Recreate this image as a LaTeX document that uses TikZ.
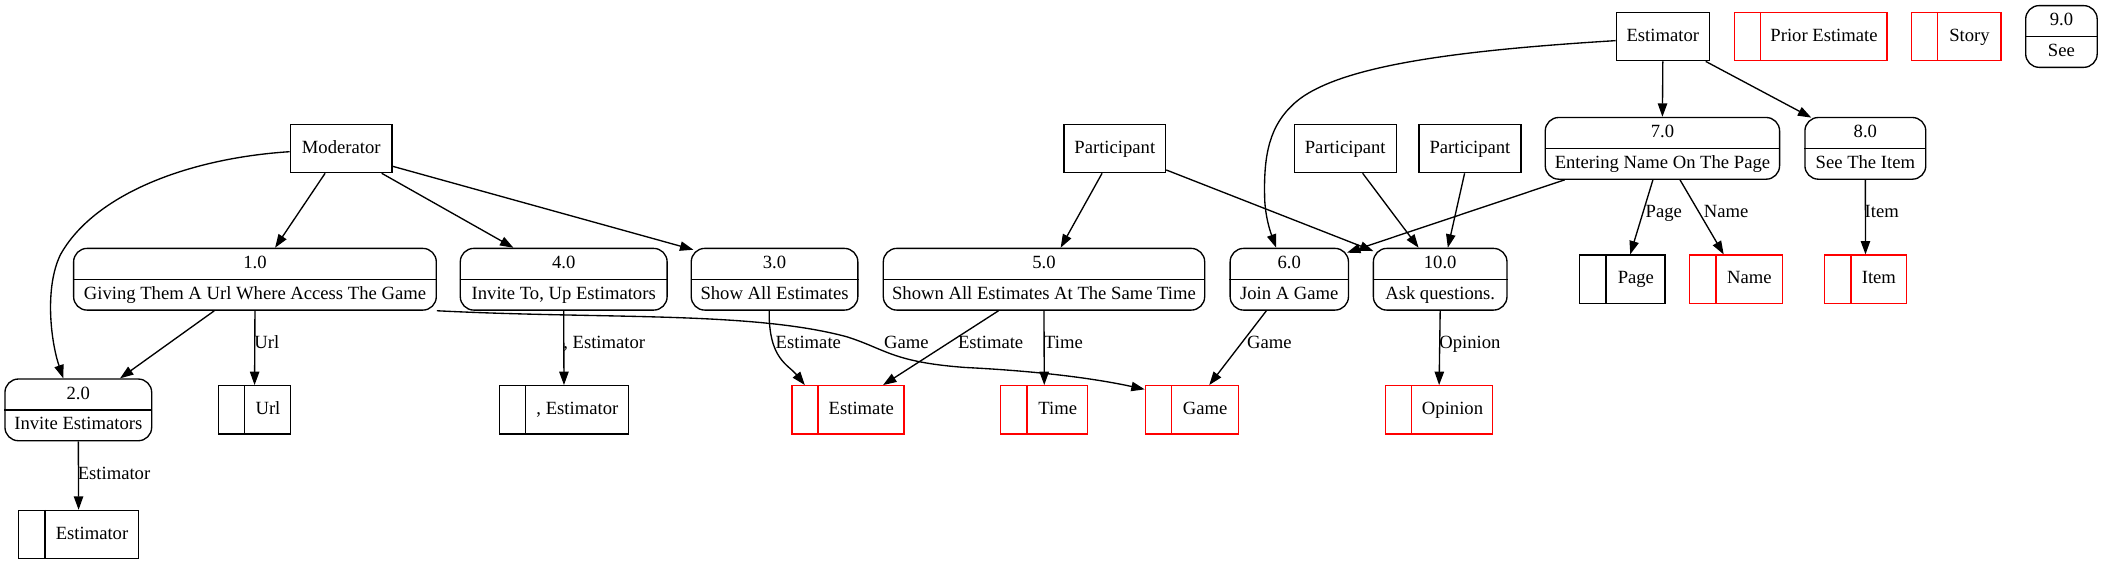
\documentclass[tikz,border=0pt]{standalone}
\usepackage{fontspec}
\setmainfont{Liberation Serif}
\usetikzlibrary{arrows.meta}
\tikzset{
  every node/.style={font=\fontsize{13.9}{16}\selectfont},
  txt/.style={inner sep=0pt, text height=9.8pt, text depth=2.8pt},
  lbl/.style={inner sep=0pt, text height=9.8pt, text depth=2.8pt},
  extbox/.style={draw, line width=1pt, rectangle, minimum height=36pt, inner sep=0pt, text height=9.8pt, text depth=2.8pt},
  procbox/.style={draw, line width=1pt, rectangle, rounded corners=10pt, minimum height=46pt, inner sep=0pt},
  storebox/.style={draw, line width=1pt, rectangle, minimum height=36pt, inner sep=0pt},
  flow/.style={line width=1pt, -{Triangle[length=10pt,width=7pt]}},
}
\newcommand{\dfdproc}[6]{%
  \node[procbox, minimum width=#4pt] (#1) at (#2,#3) {};
  \draw[line width=1pt] (#1.west) -- (#1.east);
  \node[txt] (#1n) at ([yshift=11.5pt]#1.center) {#5};
  \node[txt] (#1t) at ([yshift=-11.5pt]#1.center) {#6};
}
\newcommand{\dfdstore}[6]{%
  \node[storebox, draw=#5, minimum width=#4pt] (#1) at (#2,#3) {};
  \draw[#5, line width=1pt] ([xshift=20pt]#1.north west) -- ([xshift=20pt]#1.south west);
  \node[txt] (#1t) at ([xshift=10pt]#1.center) {#6};
}
\begin{document}
\begin{tikzpicture}[x=1pt,y=-1pt]
\useasboundingbox (0,0) rectangle (1568,420.5);

% external entities
\node[extbox, minimum width=75.8pt] (mod) at (254.4,110.7) {Moderator};
\node[extbox, minimum width=75.6pt] (partA) at (831.2,110.7) {Participant};
\node[extbox, minimum width=76pt] (partB) at (1003,110.7) {Participant};
\node[extbox, minimum width=76pt] (partC) at (1096,110.7) {Participant};
\node[extbox, minimum width=69.5pt] (est) at (1239.8,27.3) {Estimator};

% processes
\dfdproc{p1}{190.1}{208.2}{270.4}{1.0}{Giving Them A Url Where Access The Game}
\dfdproc{p4}{420.3}{208.2}{154.2}{4.0}{Invite To, Up Estimators}
\dfdproc{p3}{577.5}{208.2}{124.2}{3.0}{Show All Estimates}
\dfdproc{p5}{778.4}{208.2}{239.6}{5.0}{Shown All Estimates At The Same Time}
\dfdproc{p6}{961.3}{208.2}{88.2}{6.0}{Join A Game}
\dfdproc{p10}{1073.8}{208.2}{99.6}{10.0}{Ask questions.}
\dfdproc{p7}{1239.5}{110.6}{174.7}{7.0}{Entering Name On The Page}
\dfdproc{p8}{1390.8}{110.6}{90.1}{8.0}{See The Item}
\dfdproc{p9}{1537}{27.2}{53.3}{9.0}{See}
\dfdproc{p2}{58.4}{305.6}{109.4}{2.0}{Invite Estimators}

% data stores
\dfdstore{sPrior}{1350}{27.3}{114}{red}{Prior Estimate}
\dfdstore{sStory}{1458.5}{27.3}{67}{red}{Story}
\dfdstore{sPage}{1209.7}{208.2}{63.6}{black}{Page}
\dfdstore{sName}{1294.4}{208.2}{69.1}{red}{Name}
\dfdstore{sItem}{1390.9}{208.2}{60.8}{red}{Item}
\dfdstore{sUrl}{189.8}{305.6}{54}{black}{Url}
\dfdstore{sEstr}{420.5}{305.6}{96.5}{black}{, Estimator}
\dfdstore{sEstimate}{632.2}{305.6}{83.6}{red}{Estimate}
\dfdstore{sTime}{778.6}{305.6}{64.8}{red}{Time}
\dfdstore{sGame}{888.6}{305.6}{69.2}{red}{Game}
\dfdstore{sOpinion}{1073}{305.6}{80}{red}{Opinion}
\dfdstore{sEstimator}{58.6}{398.6}{89.2}{black}{Estimator}

% flows from Moderator
\draw[flow] ([xshift=-12pt]mod.south) -- ([xshift=15pt]p1.north);
\draw[flow] ([xshift=30.2pt]mod.south) -- ([xshift=-37.5pt]p4.north);
\draw[flow] ([yshift=-13.3pt]mod.east) -- ([xshift=-60.5pt,yshift=-1.5pt]p3.north);
\draw[flow] ([yshift=-2.4pt]mod.west) .. controls (140,118) and (70,145) .. (45,190)
  .. controls (33,215) and (38,255) .. ([xshift=-11.2pt]p2.north);

% flows from 1.0
\draw[flow] ([xshift=-30.3pt]p1.south) -- ([xshift=31.1pt]p2.north);
\draw[flow] (p1.south) -- (sUrl.north);
\draw[flow] (p1.south east) .. controls (450,238) and (560,232) .. (631,251)
  .. controls (660,260) and (665,270) .. (720,274)
  .. controls (780,277) and (820,283) .. ([yshift=-3.2pt]sGame.north west);

% other flows to stores
\draw[flow] (p4.south) -- (sEstr.north);
\draw[flow] ([xshift=-4pt]p3.south) .. controls (573,268) and (588,272) .. ([xshift=10.2pt]sEstimate.north west);
\draw[flow] ([xshift=-33.9pt]p5.south) -- ([xshift=26.2pt]sEstimate.north);
\draw[flow] (p5.south) -- (sTime.north);
\draw[flow] ([xshift=-17.1pt]p6.south) -- ([xshift=13pt]sGame.north);
\draw[flow] (p10.south) -- (sOpinion.north);
\draw[flow] (p2.south) -- (sEstimator.north);

% participants
\draw[flow] ([xshift=-9.5pt]partA.south) -- ([xshift=12.4pt]p5.north);
\draw[flow] ([yshift=-16pt]partA.east) -- ([xshift=-49.8pt,yshift=-2.5pt]p10.north);
\draw[flow] ([xshift=13pt]partB.south) -- ([xshift=-16.1pt]p10.north);
\draw[flow] ([xshift=-4pt]partC.south) -- ([xshift=5.7pt]p10.north);

% estimator
\draw[flow] ([yshift=-3pt]est.west) .. controls (1080,38) and (990,50) .. (962,80)
  .. controls (945,97) and (942,120) .. (943,150)
  .. controls (944,165) and (948,175) .. ([xshift=-9.8pt]p6.north);
\draw[flow] (est.south) -- (p7.north);
\draw[flow] ([xshift=32pt]est.south) -- ([xshift=-40.3pt,yshift=-0.6pt]p8.north);

% from 7.0 and 8.0
\draw[flow] ([xshift=-72.9pt]p7.south) -- ([xshift=43pt,yshift=-3.7pt]p6.north);
\draw[flow] ([xshift=-7.1pt]p7.south) -- ([xshift=5.8pt]sPage.north);
\draw[flow] ([xshift=13.1pt]p7.south) -- ([xshift=-9.2pt]sName.north);
\draw[flow] (p8.south) -- (sItem.north);

% flow labels
\node[lbl] (lUrl) at (199,256.5) {Url};
\node[lbl] (lEstr) at (450.5,256.5) {, Estimator};
\node[lbl] (lEst1) at (602.7,256.5) {Estimate};
\node[lbl] (lGame1) at (675.8,256.5) {Game};
\node[lbl] (lEst2) at (738.6,256.5) {Estimate};
\node[lbl] (lTime) at (793,256.5) {Time};
\node[lbl] (lGame2) at (946.5,256.5) {Game};
\node[lbl] (lOpinion) at (1096,256.5) {Opinion};
\node[lbl] (lPage) at (1240.5,159) {Page};
\node[lbl] (lName) at (1287,159) {Name};
\node[lbl] (lItem) at (1403,159) {Item};
\node[lbl] (lEstimator) at (85,354) {Estimator};
\end{tikzpicture}
\end{document}
